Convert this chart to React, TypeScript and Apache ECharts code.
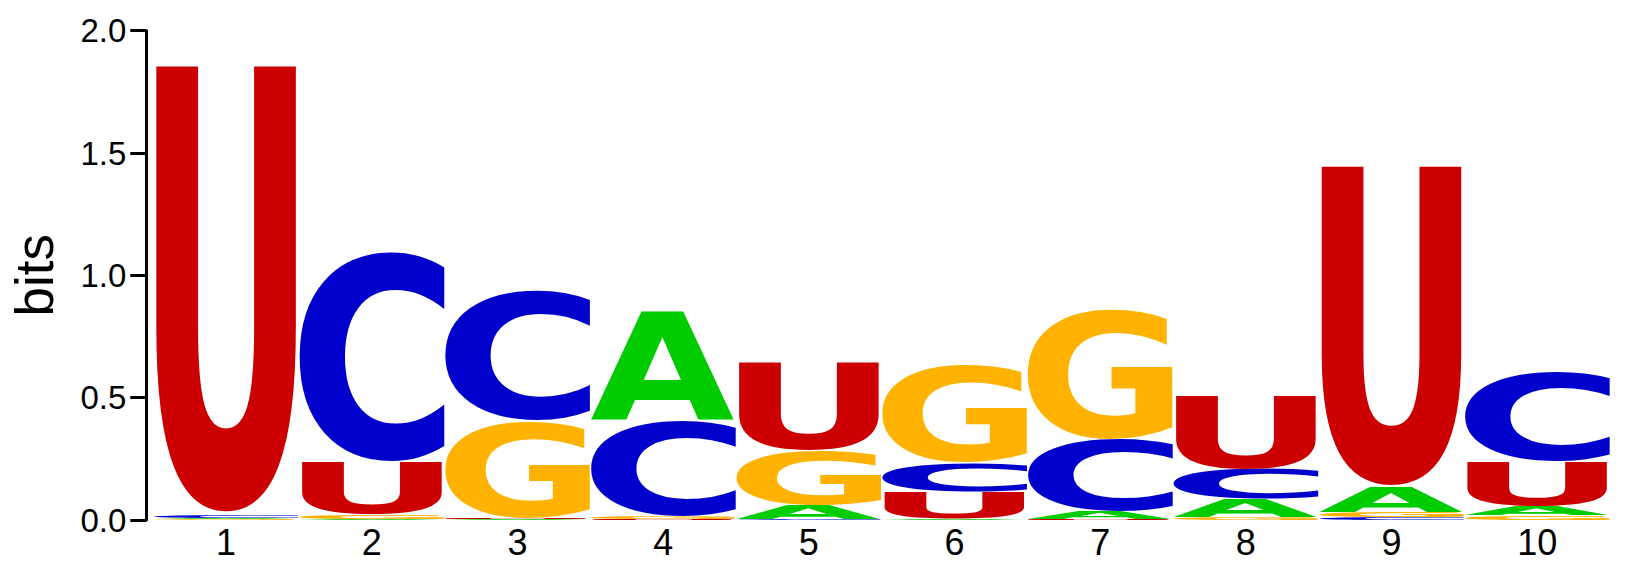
import React, { useEffect, useRef } from 'react';
import * as echarts from 'echarts';

// sequence positions (x categories)
const positions = ['1', '2', '3', '4', '5', '6', '7', '8', '9', '10'];

// letters and their colours
const letters = ['A', 'C', 'G', 'U'];
const letterColors = ['#00CC00', '#0000CC', '#FFB300', '#CC0000'];

// information (bits) per letter at each position
const bitsA = [0.006, 0.004, 0.003, 0.444, 0.057, 0.005, 0.030, 0.073, 0.100, 0.039];
const bitsC = [0.012, 0.863, 0.538, 0.390, 0.004, 0.118, 0.294, 0.120, 0.012, 0.371];
const bitsG = [0.003, 0.018, 0.396, 0.012, 0.222, 0.401, 0.538, 0.012, 0.020, 0.018];
const bitsU = [1.835, 0.212, 0.003, 0.004, 0.363, 0.110, 0.003, 0.302, 1.312, 0.181];

const yMin = 0;
const yMax = 2;
const yStep = 0.5;

const LETTER_SIZE = 400;
const LETTER_FONT = `bold ${LETTER_SIZE}px 'DejaVu Sans'`;
const AXIS_FONT = "'Liberation Sans', Arial, sans-serif";

type Box = { left: number; top: number; width: number; height: number };

// ink box of each glyph, relative to the text anchor (svg text uses a central baseline)
function measureLetters(): Record<string, Box> {
  const out: Record<string, Box> = {};
  const ctx = document.createElement('canvas').getContext('2d')!;
  ctx.font = LETTER_FONT;
  letters.forEach((l) => {
    const m = ctx.measureText(l);
    const fa = m.fontBoundingBoxAscent ?? LETTER_SIZE * 0.928;
    const fd = m.fontBoundingBoxDescent ?? LETTER_SIZE * 0.236;
    // small nudge, the svg glyphs came out a touch low
    const central = (fa - fd) / 2 + LETTER_SIZE * 0.005;
    out[l] = {
      left: -m.actualBoundingBoxLeft,
      width: m.actualBoundingBoxLeft + m.actualBoundingBoxRight,
      top: central - m.actualBoundingBoxAscent,
      height: m.actualBoundingBoxAscent + m.actualBoundingBoxDescent,
    };
  });
  return out;
}

// stack letters in each column, smallest at the bottom
function buildStacks() {
  const all = [bitsA, bitsC, bitsG, bitsU];
  const rows: number[][] = [];
  positions.forEach((_, i) => {
    const col = letters.map((_, k) => ({ k, h: all[k][i] })).sort((a, b) => a.h - b.h);
    let base = 0;
    col.forEach(({ k, h }) => {
      rows.push([i, base, base + h, k]);
      base += h;
    });
  });
  return rows;
}

export default function App() {
  const chartRef = useRef<HTMLDivElement>(null);

  useEffect(() => {
    if (!chartRef.current) return;
    const chart = echarts.init(chartRef.current, undefined, { renderer: 'svg' });
    const boxes = measureLetters();
    const stacks = buildStacks();

    const option = {
      animation: false,
      grid: { left: 153.3, right: 20, top: 30.7, bottom: 45 },
      xAxis: {
        type: 'category',
        data: positions,
        axisLine: { show: false },
        axisTick: { show: false },
        axisLabel: { color: '#000', fontSize: 36, fontFamily: AXIS_FONT, margin: 4 },
      },
      yAxis: {
        type: 'value',
        min: yMin,
        max: yMax,
        interval: yStep,
        offset: 7,
        name: 'bits',
        nameLocation: 'middle',
        nameGap: 85,
        nameTextStyle: { color: '#000', fontSize: 53, fontFamily: AXIS_FONT },
        axisLine: { show: true, lineStyle: { color: '#000', width: 3 } },
        axisTick: { show: true, length: 16, lineStyle: { color: '#000', width: 3 } },
        splitLine: { show: false },
        axisLabel: {
          color: '#000',
          fontSize: 33,
          fontFamily: AXIS_FONT,
          margin: 20,
          formatter: (v: number) => v.toFixed(1),
        },
      },
      series: [
        {
          type: 'custom',
          encode: { x: 0, y: [1, 2] },
          data: stacks,
          renderItem: (params: any, api: any) => {
            const col = api.value(0);
            const bottom = api.coord([col, api.value(1)]);
            const top = api.coord([col, api.value(2)]);
            const bw = api.size([1, 0])[0];
            const h = bottom[1] - top[1];
            if (h <= 0) return null;
            const k = api.value(3);
            const letter = letters[k];
            const b = boxes[letter];
            const sx = bw / b.width;
            const sy = h / b.height;
            return {
              type: 'text',
              x: bottom[0] - bw / 2 - sx * b.left,
              y: top[1] - sy * b.top,
              scaleX: sx,
              scaleY: sy,
              silent: true,
              style: {
                text: letter,
                font: LETTER_FONT,
                fill: letterColors[k],
                align: 'left',
                verticalAlign: 'middle',
                textAlign: 'left',
                textVerticalAlign: 'middle',
              },
            };
          },
        },
      ],
    };

    chart.setOption(option);
    return () => chart.dispose();
  }, []);

  return (
    <div
      ref={chartRef}
      style={{ position: 'fixed', left: 0, top: 0, width: '1630px', height: '565px', background: '#fff' }}
    />
  );
}
